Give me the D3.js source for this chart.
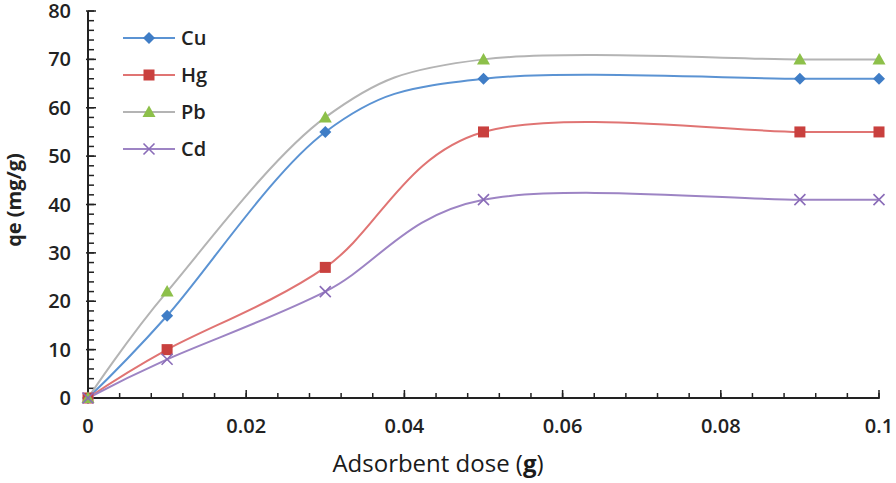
<!DOCTYPE html>
<html><head><meta charset="utf-8">
<script src="https://cdn.jsdelivr.net/npm/d3@7"></script>
<style>body{margin:0;background:#fff}svg{display:block}text{font-family:"Open Sans",sans-serif}</style>
</head><body>
<svg id="c" width="896" height="483"></svg>
<script>
const doses = [0, 0.01, 0.03, 0.05, 0.09, 0.1];
const cu = [0, 17, 55, 66, 66, 66];
const hg = [0, 10, 27, 55, 55, 55];
const pb = [0, 22, 58, 70, 70, 70];
const cd = [0, 8, 22, 41, 41, 41];
const seriesNames = ["Cu", "Hg", "Pb", "Cd"];
const xTicks = [0, 0.02, 0.04, 0.06, 0.08, 0.1];
const yTicks = [0, 10, 20, 30, 40, 50, 60, 70, 80];

const svg = d3.select("#c");
const x = d3.scaleLinear().domain([0, 0.1]).range([88, 879]);
const y = d3.scaleLinear().domain([0, 80]).range([398, 11]);

const styles = [
  {name: seriesNames[0], data: cu, line: "#5b93d3", fill: "#3f7dc6", shape: "diamond"},
  {name: seriesNames[1], data: hg, line: "#e07473", fill: "#c9403e", shape: "square"},
  {name: seriesNames[2], data: pb, line: "#b4b4b4", fill: "#8dc04a", shape: "triangle"},
  {name: seriesNames[3], data: cd, line: "#9d84c4", fill: "#8a6cb8", shape: "x"}
];

const g = svg.append("g");
const xMinor = d3.range(0, 0.1001, 0.004);
g.selectAll(".xm").data(xMinor).join("line")
  .attr("x1", d => x(d)).attr("x2", d => x(d)).attr("y1", 398).attr("y2", 393)
  .attr("stroke", "#222").attr("stroke-width", 1.5);
g.selectAll(".xM").data(xTicks).join("line")
  .attr("x1", d => x(d)).attr("x2", d => x(d)).attr("y1", 399).attr("y2", 390)
  .attr("stroke", "#222").attr("stroke-width", 1.5);
const yMinor = d3.range(0, 80.1, 2);
g.selectAll(".ym").data(yMinor).join("line")
  .attr("x1", 88).attr("x2", 94).attr("y1", d => y(d)).attr("y2", d => y(d))
  .attr("stroke", "#222").attr("stroke-width", 1.5);
g.selectAll(".yM").data(yTicks).join("line")
  .attr("x1", 86).attr("x2", 96).attr("y1", d => y(d)).attr("y2", d => y(d))
  .attr("stroke", "#222").attr("stroke-width", 1.5);
g.append("line").attr("x1", 88).attr("x2", 88).attr("y1", 11).attr("y2", 399).attr("stroke", "#222").attr("stroke-width", 2);
g.append("line").attr("x1", 87).attr("x2", 879).attr("y1", 398).attr("y2", 398).attr("stroke", "#222").attr("stroke-width", 2);

g.selectAll(".yl").data(yTicks).join("text")
  .attr("x", 71).attr("y", d => y(d) + 7).attr("text-anchor", "end")
  .attr("font-size", 20).attr("font-weight", 600).attr("fill", "#222").text(d => d);
g.selectAll(".xl").data(xTicks).join("text")
  .attr("x", d => x(d)).attr("y", 433).attr("text-anchor", "middle")
  .attr("font-size", 20).attr("font-weight", 600).attr("fill", "#222")
  .text(d => d === 0 ? "0" : String(+d.toFixed(2)));

svg.append("text").attr("x", 438).attr("y", 472).attr("text-anchor", "middle")
  .attr("font-size", 24).attr("fill", "#1a1a1a")
  .html('Adsorbent dose (<tspan font-weight="700">g</tspan>)');
svg.append("text").attr("transform", "translate(21,200) rotate(-90)").attr("text-anchor", "middle")
  .attr("font-size", 20).attr("font-weight", 700).attr("fill", "#222").text("qe (mg/g)");

function marker(sel, shape, fill) {
  if (shape === "diamond") sel.append("path").attr("d", "M0,-6L6,0L0,6L-6,0Z").attr("fill", fill);
  else if (shape === "square") sel.append("rect").attr("x", -5.5).attr("y", -5.5).attr("width", 11).attr("height", 11).attr("fill", fill);
  else if (shape === "triangle") sel.append("path").attr("d", "M0,-6.5L6.5,5L-6.5,5Z").attr("fill", fill);
  else sel.append("path").attr("d", "M-5.5,-5.5L5.5,5.5M-5.5,5.5L5.5,-5.5").attr("stroke", fill).attr("stroke-width", 1.6).attr("fill", "none");
}

const line = d3.line().curve(d3.curveCardinal.tension(0)).x(d => x(d[0])).y(d => y(d[1]));
styles.forEach(s => {
  const pts = doses.map((d, i) => [d, s.data[i]]);
  svg.append("path").attr("d", line(pts)).attr("fill", "none").attr("stroke", s.line).attr("stroke-width", 2);
});
styles.forEach(s => {
  doses.forEach((d, i) => {
    const m = svg.append("g").attr("transform", `translate(${x(d)},${y(s.data[i])})`);
    marker(m, s.shape, s.fill);
  });
});

const legY = [38, 75, 112, 149];
styles.forEach((s, i) => {
  const lg = svg.append("g").attr("transform", `translate(0,${legY[i]})`);
  lg.append("line").attr("x1", 123).attr("x2", 175).attr("y1", 0).attr("y2", 0).attr("stroke", s.line).attr("stroke-width", 2);
  const m = lg.append("g").attr("transform", "translate(149,0)");
  marker(m, s.shape, s.fill);
  lg.append("text").attr("x", 181).attr("y", 7).attr("font-size", 20).attr("font-weight", 600).attr("fill", "#222").text(s.name);
});
</script>
</body></html>
